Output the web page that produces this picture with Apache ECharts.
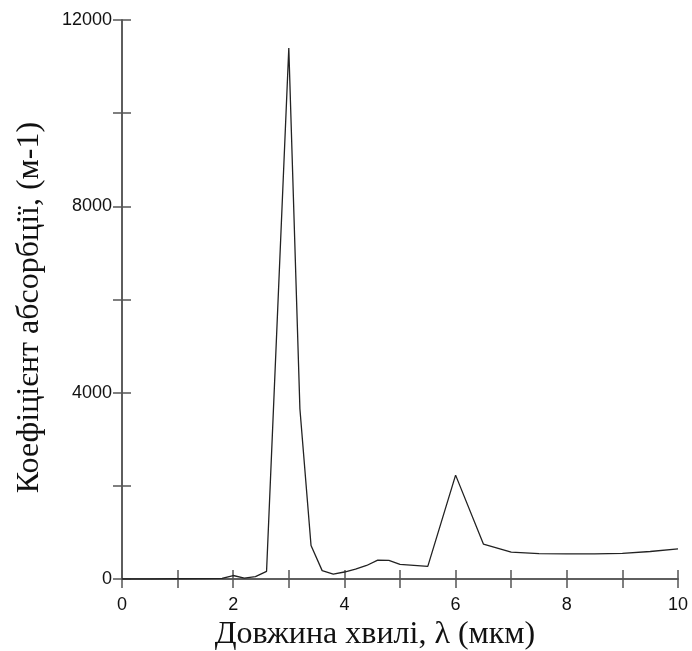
<!DOCTYPE html>
<html>
<head>
<meta charset="utf-8">
<script src="https://cdn.jsdelivr.net/npm/echarts@6/dist/echarts.min.js"></script>
<style>html,body{margin:0;padding:0;background:#fff;}#c{width:692px;height:651px;}</style>
</head>
<body>
<div id="c"></div>
<script>
var wavelength = [0, 0.5, 1, 1.5, 1.8, 2.0, 2.2, 2.4, 2.6, 3.0, 3.2, 3.4, 3.6, 3.8, 4.0, 4.2, 4.4, 4.6, 4.8, 5.0, 5.5, 6.0, 6.5, 7.0, 7.5, 8.0, 8.5, 9.0, 9.5, 10.0];
var absorption = [0, 0, 5, 10, 15, 75, 20, 50, 165, 11400, 3650, 720, 180, 107, 150, 210, 290, 405, 400, 315, 270, 2230, 750, 575, 545, 540, 540, 550, 590, 645];
var xTitle = 'Довжина хвилі, λ (мкм)';
var yTitle = 'Коефіцієнт абсорбції, (м-1)';

var pts = wavelength.map(function (x, i) { return [x, absorption[i]]; });
var axisCol = '#555';
var tick = { show: true, inside: true, length: 9, lineStyle: { color: axisCol, width: 1.5 } };
var line = { show: true, lineStyle: { color: axisCol, width: 1.5 } };
var chart = echarts.init(document.getElementById('c'));
chart.setOption({
  animation: false,
  grid: { left: 122, right: 14, top: 20, bottom: 72, containLabel: false, outerBoundsMode: 'none' },
  xAxis: [{
    type: 'value', min: 0, max: 10, interval: 1, position: 'bottom',
    name: xTitle, nameLocation: 'middle', nameGap: 37,
    nameTextStyle: { fontFamily: 'Liberation Serif', fontSize: 32, color: '#111', padding: [0, 50, 0, 0] },
    axisLine: line, axisTick: tick,
    axisLabel: { margin: 17, fontFamily: 'Liberation Sans', fontSize: 18, color: '#111',
      formatter: function (v) { return v % 2 === 0 ? String(v) : ''; } },
    splitLine: { show: false }
  }, {
    type: 'value', min: 0, max: 10, interval: 1, position: 'top',
    axisLine: line, axisTick: tick,
    axisLabel: { show: false }, splitLine: { show: false }
  }],
  yAxis: [{
    type: 'value', min: 0, max: 12000, interval: 2000, position: 'left',
    name: yTitle, nameLocation: 'middle', nameGap: 76,
    nameTextStyle: { fontFamily: 'Liberation Serif', fontSize: 32, color: '#111', padding: [0, 16, 0, 0] },
    axisLine: line, axisTick: tick,
    axisLabel: { margin: 10, fontFamily: 'Liberation Sans', fontSize: 18, color: '#111',
      formatter: function (v) { return v % 4000 === 0 ? String(v) : ''; } },
    splitLine: { show: false }
  }, {
    type: 'value', min: 0, max: 12000, interval: 2000, position: 'right',
    axisLine: line, axisTick: tick,
    axisLabel: { show: false }, splitLine: { show: false }
  }],
  series: [{
    type: 'line', data: pts, showSymbol: false, symbol: 'none',
    lineStyle: { color: '#222', width: 1.3 }
  }]
});
</script>
</body>
</html>
